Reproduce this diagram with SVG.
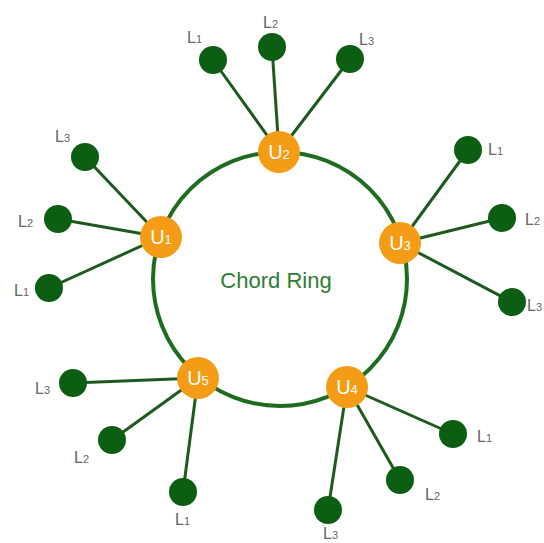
<svg xmlns="http://www.w3.org/2000/svg" width="544" height="543" viewBox="0 0 544 543">
<style>
.ring{fill:none;stroke:#1f6b1f;stroke-width:4}
.edge{stroke:#1d5a1d;stroke-width:3}
.leaf{fill:#0c5e12}
.hub{fill:#f49c16}
.lbl{font-family:"Liberation Sans",Arial,sans-serif;font-size:16px;fill:#666}
.lbl tspan{font-size:11px}
.hubt{font-family:"Liberation Sans",Arial,sans-serif;font-size:20px;fill:#fff;text-anchor:middle}
.hubt tspan{font-size:13px}
.title{font-family:"Liberation Sans",Arial,sans-serif;font-size:22px;fill:#2e7d32;text-anchor:middle}
</style>
<rect width="544" height="543" fill="#fff"/>
<g id="ring"><circle class="ring" cx="280" cy="279" r="127"/></g>
<g id="connectors">
<line class="edge" x1="279" y1="152" x2="213" y2="60"/>
<line class="edge" x1="279" y1="152" x2="272" y2="47"/>
<line class="edge" x1="279" y1="152" x2="350" y2="59"/>
<line class="edge" x1="161" y1="237" x2="85" y2="157"/>
<line class="edge" x1="161" y1="237" x2="58" y2="219"/>
<line class="edge" x1="161" y1="237" x2="49" y2="288"/>
<line class="edge" x1="400" y1="243" x2="468" y2="150"/>
<line class="edge" x1="400" y1="243" x2="502" y2="218"/>
<line class="edge" x1="400" y1="243" x2="512" y2="302"/>
<line class="edge" x1="347" y1="387" x2="453" y2="434"/>
<line class="edge" x1="347" y1="387" x2="400" y2="480"/>
<line class="edge" x1="347" y1="387" x2="328" y2="510"/>
<line class="edge" x1="198" y1="378" x2="73" y2="383"/>
<line class="edge" x1="198" y1="378" x2="112" y2="440"/>
<line class="edge" x1="198" y1="378" x2="183" y2="492"/>
</g>
<g id="U2">
<circle class="hub" cx="279" cy="152" r="21"/>
<text class="hubt" x="279" y="159">U<tspan>2</tspan></text>
</g>
<g id="U2-L1"><circle class="leaf" cx="213" cy="60" r="14"/><text class="lbl" x="187" y="43">L<tspan>1</tspan></text></g>
<g id="U2-L2"><circle class="leaf" cx="272" cy="47" r="14"/><text class="lbl" x="263" y="28">L<tspan>2</tspan></text></g>
<g id="U2-L3"><circle class="leaf" cx="350" cy="59" r="14"/><text class="lbl" x="359" y="45">L<tspan>3</tspan></text></g>
<g id="U1">
<circle class="hub" cx="161" cy="237" r="21"/>
<text class="hubt" x="161" y="244">U<tspan>1</tspan></text>
</g>
<g id="U1-L3"><circle class="leaf" cx="85" cy="157" r="14"/><text class="lbl" x="55" y="142">L<tspan>3</tspan></text></g>
<g id="U1-L2"><circle class="leaf" cx="58" cy="219" r="14"/><text class="lbl" x="18" y="227">L<tspan>2</tspan></text></g>
<g id="U1-L1"><circle class="leaf" cx="49" cy="288" r="14"/><text class="lbl" x="14" y="296">L<tspan>1</tspan></text></g>
<g id="U3">
<circle class="hub" cx="400" cy="243" r="21"/>
<text class="hubt" x="400" y="250">U<tspan>3</tspan></text>
</g>
<g id="U3-L1"><circle class="leaf" cx="468" cy="150" r="14"/><text class="lbl" x="488" y="155">L<tspan>1</tspan></text></g>
<g id="U3-L2"><circle class="leaf" cx="502" cy="218" r="14"/><text class="lbl" x="525" y="225">L<tspan>2</tspan></text></g>
<g id="U3-L3"><circle class="leaf" cx="512" cy="302" r="14"/><text class="lbl" x="527" y="311">L<tspan>3</tspan></text></g>
<g id="U4">
<circle class="hub" cx="347" cy="387" r="21"/>
<text class="hubt" x="347" y="394">U<tspan>4</tspan></text>
</g>
<g id="U4-L1"><circle class="leaf" cx="453" cy="434" r="14"/><text class="lbl" x="477" y="442">L<tspan>1</tspan></text></g>
<g id="U4-L2"><circle class="leaf" cx="400" cy="480" r="14"/><text class="lbl" x="425" y="500">L<tspan>2</tspan></text></g>
<g id="U4-L3"><circle class="leaf" cx="328" cy="510" r="14"/><text class="lbl" x="323" y="539">L<tspan>3</tspan></text></g>
<g id="U5">
<circle class="hub" cx="198" cy="378" r="21"/>
<text class="hubt" x="198" y="385">U<tspan>5</tspan></text>
</g>
<g id="U5-L3"><circle class="leaf" cx="73" cy="383" r="14"/><text class="lbl" x="35" y="394">L<tspan>3</tspan></text></g>
<g id="U5-L2"><circle class="leaf" cx="112" cy="440" r="14"/><text class="lbl" x="74" y="463">L<tspan>2</tspan></text></g>
<g id="U5-L1"><circle class="leaf" cx="183" cy="492" r="14"/><text class="lbl" x="175" y="525">L<tspan>1</tspan></text></g>
<g id="title"><text class="title" x="276" y="288">Chord Ring</text></g>
</svg>
